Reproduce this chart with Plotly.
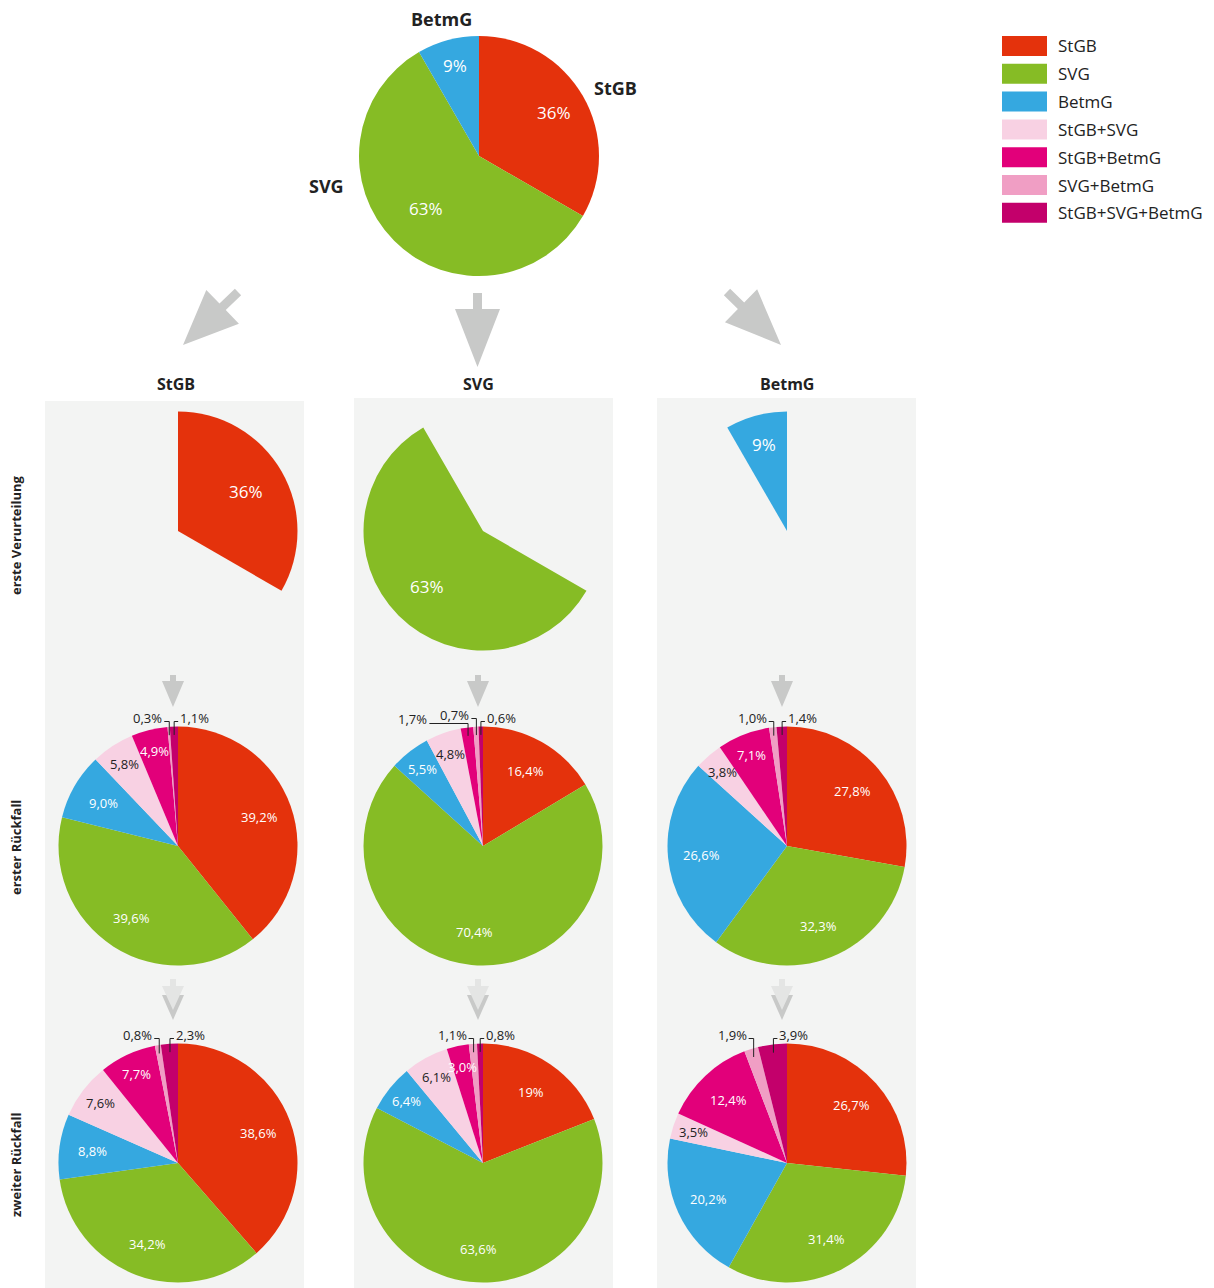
import math
import plotly.graph_objects as go

W, H = 1214, 1288

# ---------------- data ----------------
categories = ["StGB", "SVG", "BetmG", "StGB+SVG", "StGB+BetmG", "SVG+BetmG", "StGB+SVG+BetmG"]
cat_colors = ["#E4320C", "#86BC25", "#35A8E0", "#F8D1E3", "#E2007A", "#F09EC4", "#C3006B"]

overview_labels = ["StGB", "SVG", "BetmG"]
overview_values = [36, 63, 9]

column_titles = ["StGB", "SVG", "BetmG"]
row_titles = ["erste Verurteilung", "erster Rückfall", "zweiter Rückfall"]

rf1_stgb = [39.2, 39.6, 9.0, 5.8, 4.9, 0.3, 1.1]
rf1_svg = [16.4, 70.4, 5.5, 4.8, 1.7, 0.7, 0.6]
rf1_betmg = [27.8, 32.3, 26.6, 3.8, 7.1, 1.0, 1.4]

rf2_stgb = [38.6, 34.2, 8.8, 7.6, 7.7, 0.8, 2.3]
rf2_svg = [19, 63.6, 6.4, 6.1, 3.0, 1.1, 0.8]
rf2_betmg = [26.7, 31.4, 20.2, 3.5, 12.4, 1.9, 3.9]

# ---------------- layout helpers ----------------
FONT = "Open Sans"
DARK = "#222222"
ARROW = "#c8c9c8"
ARROW_LIGHT = "#e4e5e4"
PANEL = "#f3f4f3"


def X(px):
    return px / W


def Y(py):
    return 1 - py / H


def fmt(v):
    return str(v).replace(".", ",") + "%"


fig = go.Figure()
shapes = []
annotations = []


def ann(text, px, py, size=12, color=DARK, bold=False, xanchor="center", yanchor="middle", angle=0):
    t = f"<b>{text}</b>" if bold else text
    annotations.append(dict(text=t, x=X(px), y=Y(py), xref="paper", yref="paper",
                            showarrow=False, xanchor=xanchor, yanchor=yanchor, textangle=angle,
                            borderpad=0, font=dict(family=FONT, size=size, color=color)))


def line(x0, y0, x1, y1, color=DARK, width=1):
    shapes.append(dict(type="line", xref="paper", yref="paper", x0=X(x0), y0=Y(y0), x1=X(x1), y1=Y(y1),
                       line=dict(color=color, width=width)))


def poly(points, color):
    path = "M " + " L ".join(f"{X(a):.5f},{Y(b):.5f}" for a, b in points) + " Z"
    shapes.append(dict(type="path", xref="paper", yref="paper", path=path, fillcolor=color,
                       line=dict(width=0), layer="below"))


def arrow(x0, y0, x1, y1, shaft_w, head_w, head_len, color):
    dx, dy = x1 - x0, y1 - y0
    L = math.hypot(dx, dy)
    ux, uy = dx / L, dy / L
    nx, ny = -uy, ux
    bx, by = x1 - ux * head_len, y1 - uy * head_len
    pts = [
        (x0 + nx * shaft_w / 2, y0 + ny * shaft_w / 2),
        (bx + nx * shaft_w / 2, by + ny * shaft_w / 2),
        (bx + nx * head_w / 2, by + ny * head_w / 2),
        (x1, y1),
        (bx - nx * head_w / 2, by - ny * head_w / 2),
        (bx - nx * shaft_w / 2, by - ny * shaft_w / 2),
        (x0 - nx * shaft_w / 2, y0 - ny * shaft_w / 2),
    ]
    poly(pts, color)


def add_pie(labels, values, colors, cx, cy, R):
    fig.add_trace(go.Pie(
        labels=labels, values=values, sort=False, direction="clockwise", rotation=0,
        marker=dict(colors=colors, line=dict(width=0)), textinfo="none", hoverinfo="skip",
        showlegend=False,
        domain=dict(x=[X(cx - R), X(cx + R)], y=[Y(cy + R), Y(cy - R)])))


def mid_angles(values):
    tot = float(sum(values))
    acc = 0.0
    out = []
    for v in values:
        out.append(2 * math.pi * (acc + v / 2) / tot)
        acc += v
    return out


def polar(cx, cy, r, a):
    return cx + r * math.sin(a), cy - r * math.cos(a)


# ---------------- panels ----------------
panel_x = [(45, 304), (354, 613), (657, 916)]
panel_top = [401, 398, 398]
for (a, b), t in zip(panel_x, panel_top):
    shapes.append(dict(type="rect", xref="paper", yref="paper", x0=X(a), x1=X(b), y0=Y(H), y1=Y(t),
                       fillcolor=PANEL, line=dict(width=0), layer="below"))

# ---------------- overview pie ----------------
TOP_C = (479, 156)
TOP_R = 120
add_pie(overview_labels, overview_values, cat_colors[:3], TOP_C[0], TOP_C[1], TOP_R)
top_frac = [0.72, 0.62, 0.78]
for v, a, f in zip(overview_values, mid_angles(overview_values), top_frac):
    px, py = polar(TOP_C[0], TOP_C[1], TOP_R * f, a)
    ann(fmt(v), px, py, size=17, color="white")
ann("StGB", 615, 88, size=18, bold=True)
ann("SVG", 326, 186, size=18, bold=True)
ann("BetmG", 441, 19, size=18, bold=True)

# big arrows
arrow(238, 292, 183, 345, 9, 47, 55, ARROW)
arrow(477.5, 293, 477.5, 367, 9, 45, 58, ARROW)
arrow(727, 292, 781, 345, 9, 46, 56, ARROW)

# ---------------- grid of pies ----------------
col_x = [178, 483, 787]
row_y = [531, 846, 1163]
R = 119.5

for j, t in enumerate(column_titles):
    ann(t, [176, 478, 787][j], 384, size=16, bold=True)
for i, t in enumerate(row_titles):
    ann(t, 16, [535, 848, 1165][i], size=13, bold=True, angle=-90)

# row 1: the slice of the overview pie for each column
row1_frac = [0.66, 0.66, 0.75]
for j in range(3):
    cols = [cat_colors[k] if k == j else "rgba(0,0,0,0)" for k in range(3)]
    add_pie(overview_labels, overview_values, cols, col_x[j], row_y[0], R)
    a = mid_angles(overview_values)[j]
    px, py = polar(col_x[j], row_y[0], R * row1_frac[j], a)
    ann(fmt(overview_values[j]), px, py, size=17, color="white")

# small arrows between rows
for j in range(3):
    ax = [173, 478, 782][j]
    arrow(ax, 675, ax, 707, 6, 22, 26, ARROW)
    poly([(ax - 11, 995), (ax + 11, 995), (ax, 1020)], ARROW)
    arrow(ax, 979, ax, 1010, 6, 22, 24, ARROW_LIGHT)


def detail_pie(values, cx, cy):
    add_pie(categories, values, cat_colors, cx, cy, R)
    angles = mid_angles(values)
    outside = []
    for k, (v, a) in enumerate(zip(values, angles)):
        if k >= 5 or v < 2:
            outside.append(k)
            continue
        frac = 0.72 if v >= 8.5 else 0.82
        px, py = polar(cx, cy, R * frac, a)
        ann(fmt(v), px, py, size=13, color=DARK if k == 3 else "white")
    top = cy - R
    # last outside slice -> label on the right, the others on the left
    right = outside[-1:]
    left = list(reversed(outside[:-1]))
    for k in right:
        sx, sy = polar(cx, cy, R * 0.93, angles[k])
        ey = top - 5
        line(sx, sy, sx, ey)
        line(sx, ey, sx + 4, ey)
        ann(fmt(values[k]), sx + 5, ey - 4, size=13, xanchor="left")
    prev_left = None
    for n, k in enumerate(left):
        sx, sy = polar(cx, cy, R * 0.93, angles[k])
        if n == 0:
            ey = top - 5 if len(left) == 1 else top - 8
            ex = sx - 5
        else:
            ey = top - 3
            ex = prev_left - 10
        line(sx, sy, sx, ey)
        line(sx, ey, ex, ey)
        ann(fmt(values[k]), ex - 1, ey - 4, size=13, xanchor="right")
        prev_left = ex - 1 - 31


for j, vals in enumerate([rf1_stgb, rf1_svg, rf1_betmg]):
    detail_pie(vals, col_x[j], row_y[1])
for j, vals in enumerate([rf2_stgb, rf2_svg, rf2_betmg]):
    detail_pie(vals, col_x[j], row_y[2])

# ---------------- legend ----------------
for i, (name, c) in enumerate(zip(categories, cat_colors)):
    yc = 46 + 27.8 * i
    shapes.append(dict(type="rect", xref="paper", yref="paper", x0=X(1002), x1=X(1047),
                       y0=Y(yc + 10), y1=Y(yc - 10), fillcolor=c, line=dict(width=0)))
    ann(name, 1057, yc, size=17, xanchor="left")

fig.update_layout(
    width=W, height=H, margin=dict(l=0, r=0, t=0, b=0, pad=0),
    paper_bgcolor="white", plot_bgcolor="white",
    shapes=shapes, annotations=annotations, showlegend=False,
    font=dict(family=FONT, color=DARK),
)

fig.write_html("out.html", config={"displayModeBar": False},
               post_script="document.body.style.margin='0';document.body.style.overflow='hidden';")
